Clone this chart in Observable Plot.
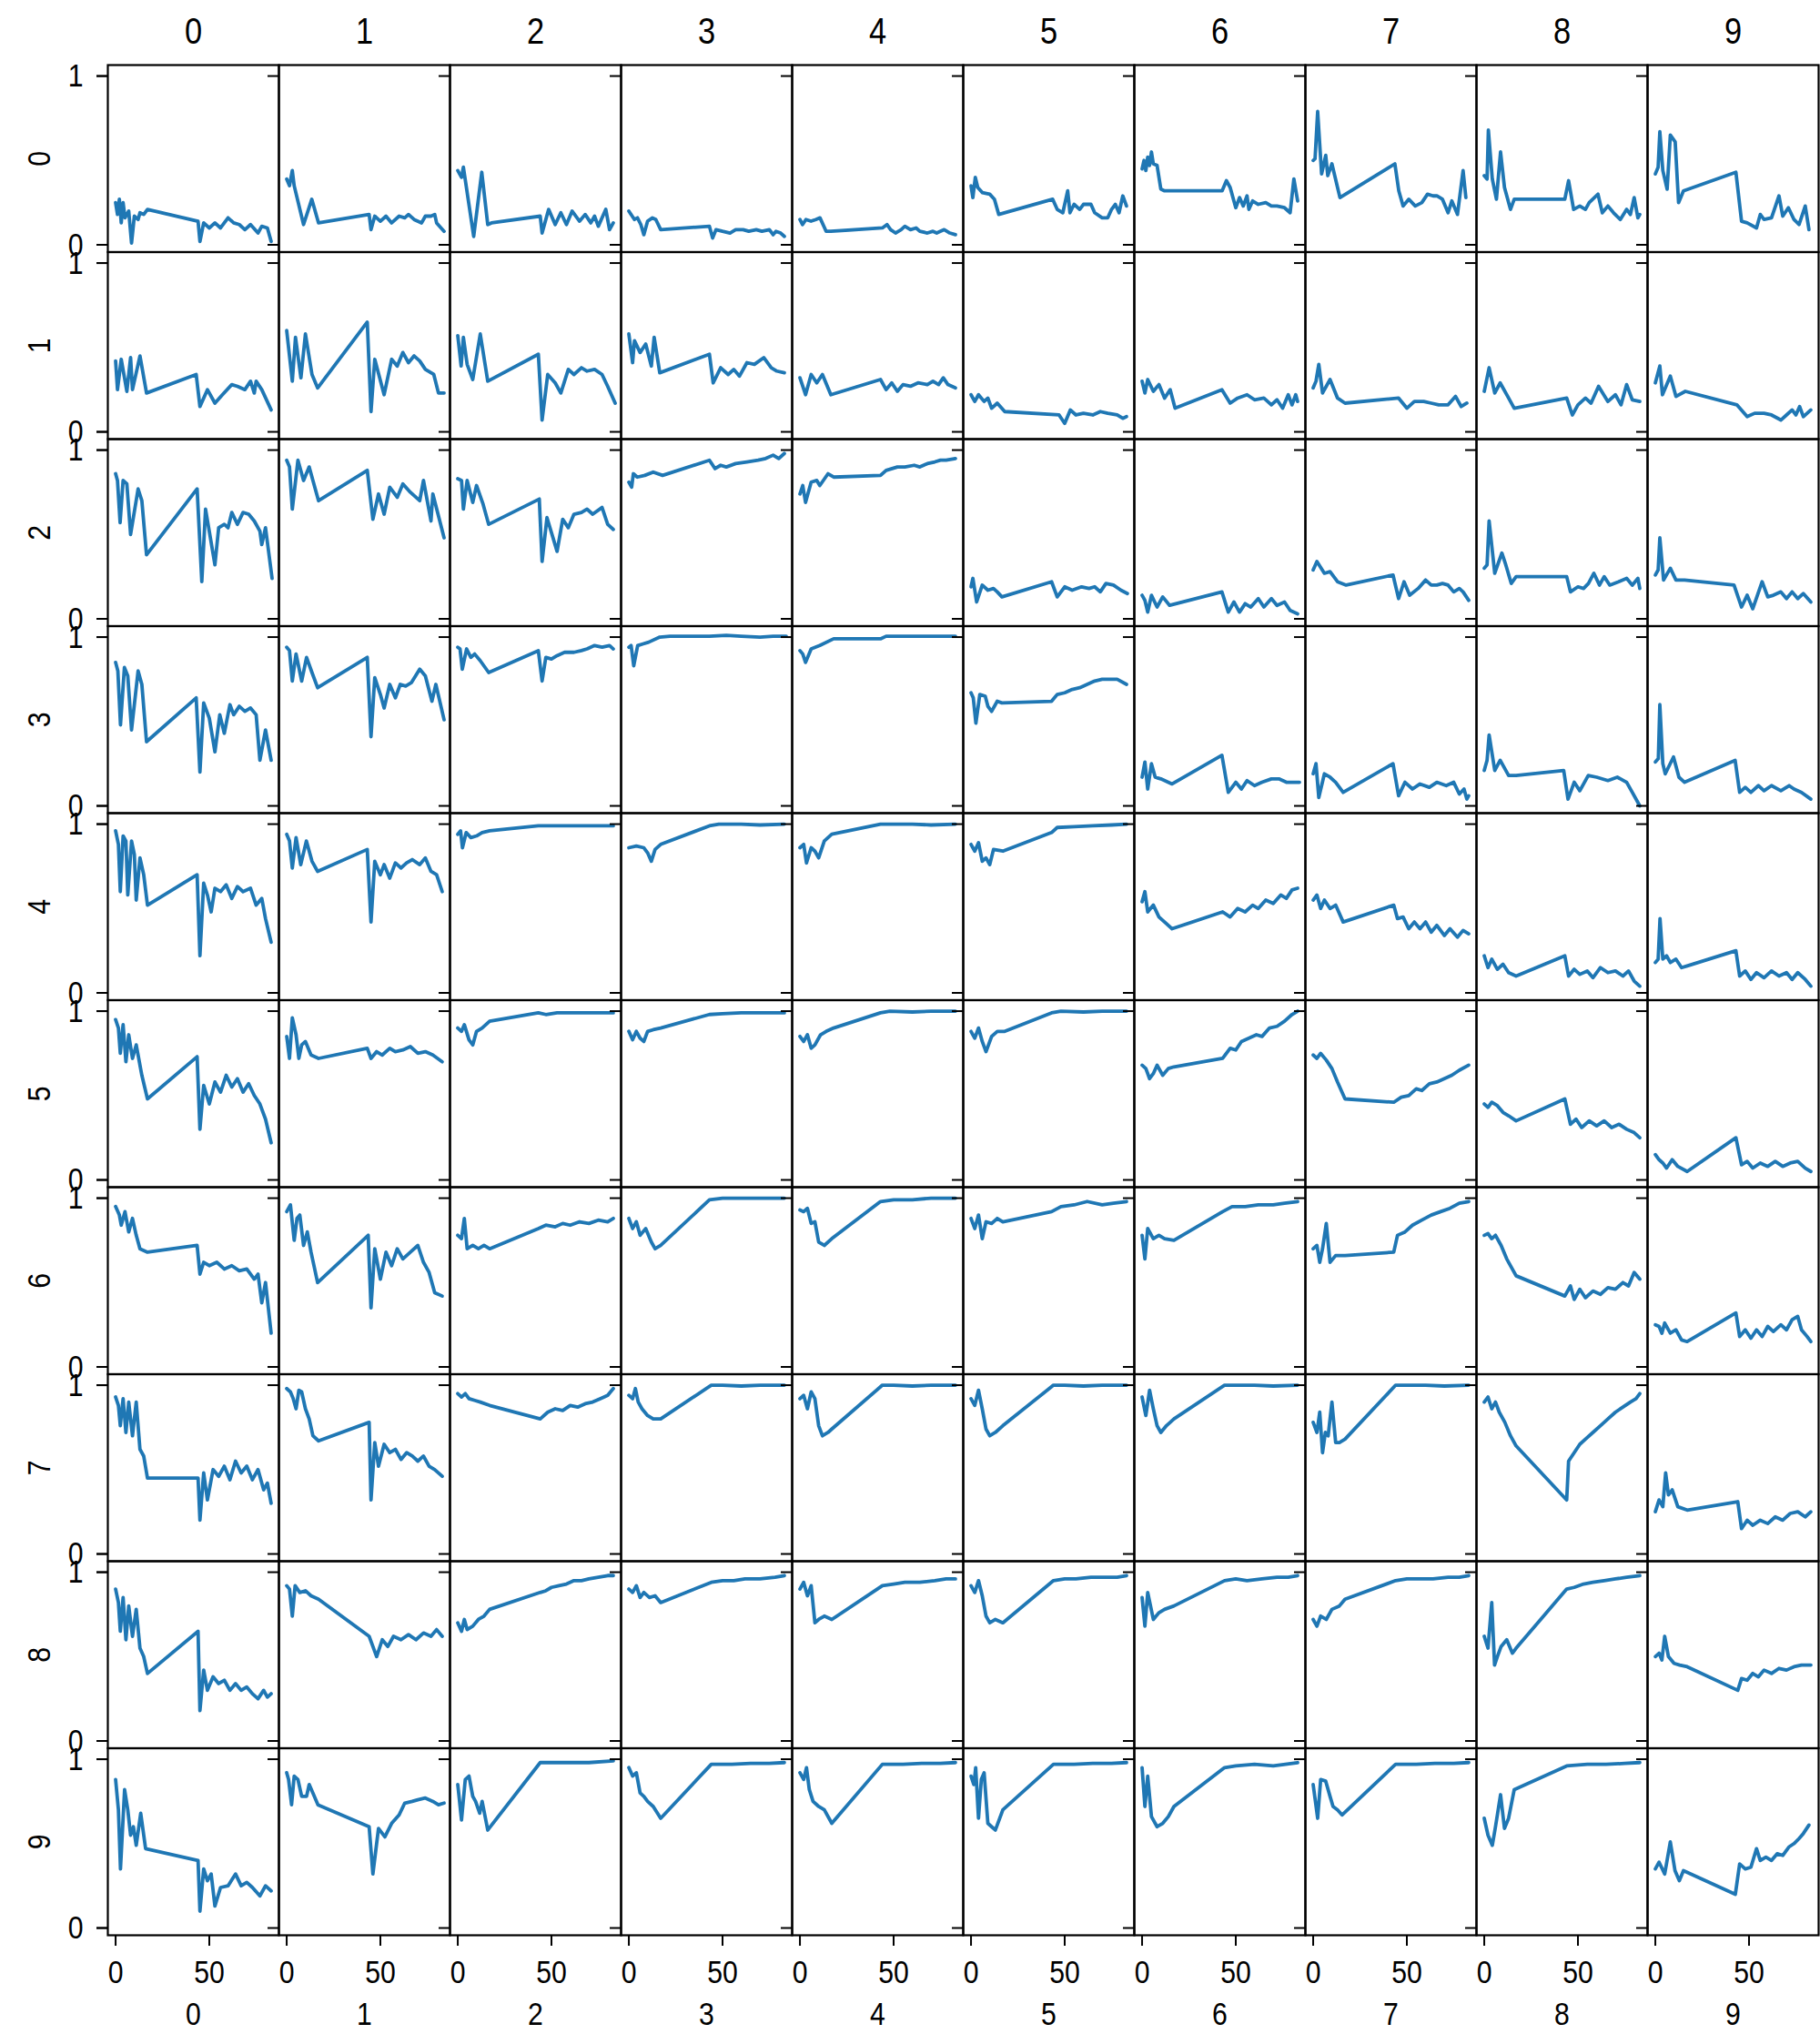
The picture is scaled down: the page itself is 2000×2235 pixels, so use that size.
<!DOCTYPE html>
<html>
<head>
<meta charset="utf-8">
<script src="https://cdn.jsdelivr.net/npm/d3@7"></script>
<script src="https://cdn.jsdelivr.net/npm/@observablehq/plot@0.6"></script>
<style>
  html, body { margin: 0; padding: 0; background: #fff; }
  #chart svg { display: block; }
</style>
</head>
<body>
<div id="chart"></div>
<script>
// Facet categories and tick values
const cols = [0, 1, 2, 3, 4, 5, 6, 7, 8, 9];
const rows = [0, 1, 2, 3, 4, 5, 6, 7, 8, 9];
const xTicks = [0, 50];
const yTicks = [0, 1];

// Series per row: one flat [x, y, x, y, ...] list per column
const row0 = [
  [0,.25, 1,.18, 2,.27, 3,.13, 4,.25, 5,.16, 7,.20, 8.5,.01, 10,.17, 12,.15, 13,.19, 15,.18, 17,.21, 44,.14, 45,.02, 47,.13, 50,.10, 53,.13, 56,.10, 60,.16, 63,.13, 66,.12, 69,.09, 72,.12, 76,.07, 78,.11, 81,.10, 83,.02],
  [0,.39, 1.5,.35, 3,.44, 4,.35, 9,.12, 13.4,.27, 17,.13, 44,.18, 45,.09, 47,.17, 50,.14, 53,.17, 56,.13, 60,.17, 63,.16, 65,.18, 68,.15, 72,.13, 74,.17, 77,.17, 79,.18, 80,.13, 84,.08],
  [0,.44, 2,.40, 3,.46, 8.5,.05, 12.8,.43, 16,.12, 18,.13, 44,.17, 45,.07, 48.5,.21, 52,.12, 55,.19, 58,.12, 61,.20, 65,.14, 68,.18, 71,.13, 73,.17, 75,.11, 79,.21, 81,.09, 83,.13],
  [0,.20, 3,.15, 4.6,.16, 6.4,.12, 8,.06, 10,.14, 12.6,.16, 14.4,.15, 17,.09, 43,.11, 44.7,.04, 46.5,.09, 50,.08, 54,.07, 57,.09, 61,.09, 64,.08, 68,.09, 71,.08, 75,.09, 77,.06, 78.5,.08, 81,.07, 83,.05],
  [0,.15, 1.4,.12, 3.2,.15, 5.9,.14, 8.5,.15, 10.7,.16, 14,.08, 16.5,.08, 44,.10, 46.5,.12, 48.4,.09, 51,.07, 54,.09, 56,.11, 59,.09, 62,.10, 64,.08, 68,.07, 71,.08, 73,.07, 77,.09, 80,.07, 83,.06],
  [0,.35, 1,.28, 2.3,.40, 3.6,.34, 6,.31, 10,.30, 12.5,.27, 14.8,.18, 43.6,.27, 46,.21, 49,.19, 51.6,.32, 52.8,.19, 55,.24, 58,.21, 60,.24, 64,.24, 66,.19, 70,.16, 73,.16, 75,.21, 77,.24, 79,.19, 81,.29, 83,.23],
  [0,.45, 1,.50, 2,.44, 3,.52, 4,.47, 5,.55, 6,.48, 8,.47, 10,.33, 12,.32, 42.7,.32, 45,.38, 47,.34, 50,.22, 52,.28, 54,.23, 56,.29, 57,.21, 59,.26, 62,.24, 66,.25, 69,.23, 72,.23, 76,.22, 79,.19, 81,.39, 83,.26],
  [0,.50, 1,.51, 2.4,.79, 4.5,.42, 6.7,.53, 7.8,.41, 10,.48, 14.3,.28, 43.6,.48, 45.7,.32, 48,.23, 51,.27, 54.5,.23, 58,.25, 61,.30, 64,.29, 66,.29, 69,.27, 72,.19, 74,.26, 77,.18, 80,.44, 81.5,.28],
  [0,.41, 1.5,.39, 2.2,.68, 4.3,.39, 6.5,.27, 8.7,.55, 10.8,.34, 14,.21, 16,.27, 43,.27, 45,.38, 47.7,.21, 51,.23, 54,.21, 56,.25, 60.7,.30, 63,.19, 66,.23, 69,.19, 72.6,.15, 76,.21, 78,.18, 80,.28, 82,.16, 83,.18],
  [0,.42, 1.5,.46, 2.4,.67, 4,.44, 6.3,.33, 8,.65, 10.6,.61, 12.4,.25, 15,.32, 43,.43, 46,.14, 49,.13, 54,.10, 56,.18, 58,.15, 62,.16, 66,.29, 68,.17, 71,.22, 74,.15, 76.7,.12, 80,.23, 82,.09]
];
const row1 = [
  [0,.42, 1,.25, 3,.43, 6,.24, 8,.44, 9,.25, 13,.45, 16.5,.23, 43,.34, 45,.15, 49,.25, 53,.17, 57,.22, 62,.28, 65,.27, 69,.25, 72,.30, 74,.23, 75,.30, 78,.25, 83,.13],
  [0,.60, 3,.30, 4.7,.56, 7.6,.32, 10,.58, 13.5,.34, 16.5,.26, 43,.65, 45,.12, 47,.43, 52,.22, 56,.43, 59,.39, 62,.47, 65,.41, 68,.45, 71,.42, 74,.37, 78.5,.34, 81,.23, 84,.23],
  [0,.57, 1.8,.39, 3,.56, 5,.40, 8,.31, 12,.58, 16,.30, 43,.46, 45,.07, 48,.34, 52,.29, 55,.23, 59,.37, 62,.34, 66,.38, 69,.36, 73,.37, 77,.34, 80,.27, 84,.17],
  [0,.58, 2,.41, 3,.54, 6,.47, 9,.52, 12,.39, 13.5,.56, 16.5,.35, 43,.46, 45,.29, 49,.38, 53,.34, 56,.37, 59,.33, 63,.41, 67,.40, 72,.44, 76,.38, 79,.36, 83,.35],
  [0,.32, 3,.22, 6,.34, 9,.29, 12,.34, 16.5,.22, 43,.31, 46,.25, 49,.29, 52,.24, 55,.28, 59,.27, 63,.29, 68,.28, 71,.30, 74,.28, 76.5,.32, 79,.28, 83,.26],
  [0,.22, 2,.18, 4,.22, 7,.18, 9,.20, 11,.14, 14,.17, 18,.12, 47,.10, 50,.05, 53,.13, 56,.10, 60,.11, 65,.10, 69,.12, 73,.11, 78,.10, 81,.08, 83,.09],
  [0,.30, 1.5,.23, 3,.31, 6,.24, 9,.28, 12,.20, 15,.25, 17.6,.14, 42.6,.25, 47,.17, 51,.20, 56,.22, 60,.19, 65,.20, 69,.16, 72,.19, 75,.14, 78,.22, 80,.16, 82,.22, 83,.18],
  [0,.26, 1.5,.30, 3,.40, 5,.23, 9,.31, 13,.20, 17,.17, 45.6,.20, 50,.14, 54,.18, 59,.18, 63,.17, 67,.16, 72,.16, 76,.21, 79,.15, 82,.17],
  [0,.24, 2.6,.38, 5.6,.23, 8.5,.29, 13,.20, 16,.14, 44,.20, 47,.10, 50,.16, 54,.20, 57,.17, 61,.27, 66,.18, 70,.22, 73,.16, 76,.28, 79,.19, 83,.18],
  [0,.29, 2.4,.39, 3.8,.22, 8,.33, 11,.21, 16,.24, 43.5,.16, 49,.09, 53,.11, 58,.11, 62,.10, 67,.07, 70,.10, 73,.13, 75,.10, 77,.15, 79,.09, 83,.13]
];
const row2 = [
  [0,.86, 1,.82, 2.4,.57, 4,.82, 6,.80, 8,.50, 12,.77, 14,.70, 16.5,.38, 43.5,.77, 46,.22, 48,.65, 53,.32, 55,.54, 58,.56, 60,.54, 62,.63, 65,.56, 68,.63, 71,.62, 74,.58, 77,.52, 78,.44, 80,.54, 83.5,.24],
  [0,.94, 1.5,.90, 3,.65, 6,.94, 9,.82, 12,.90, 14,.82, 17,.70, 43,.88, 46,.59, 49,.74, 52,.62, 55,.78, 59,.72, 62,.80, 66,.75, 71,.70, 73,.82, 77,.58, 78,.74, 84,.48],
  [0,.83, 2,.82, 3,.65, 5,.82, 8,.69, 10,.79, 13.5,.68, 16.5,.56, 43.5,.71, 45,.34, 47.6,.60, 53,.40, 56,.59, 59,.54, 62,.62, 66,.63, 69,.65, 72,.62, 77,.66, 80,.56, 83,.53],
  [0,.81, 1.5,.78, 2.4,.86, 4.5,.84, 8.5,.85, 13,.87, 18,.85, 43,.94, 46,.89, 49,.91, 52,.90, 57,.92, 63,.93, 69,.94, 73,.95, 77,.97, 80,.95, 83,.98],
  [0,.74, 1.5,.79, 3,.69, 6,.81, 9,.82, 10.6,.79, 15,.86, 18,.84, 43,.85, 46,.88, 52,.90, 56,.90, 61,.91, 64,.90, 68,.92, 72,.93, 75,.94, 78,.94, 83,.95],
  [0,.19, 1,.24, 3,.10, 6,.20, 9,.17, 12,.18, 14,.16, 16.5,.13, 43,.22, 46,.13, 50,.19, 54,.17, 59,.19, 63,.18, 66,.19, 69,.16, 72,.21, 76,.20, 80,.17, 83.5,.15],
  [0,.14, 1.5,.11, 3,.04, 5,.14, 8,.07, 11,.13, 14.7,.08, 42.6,.16, 46,.04, 49,.10, 52,.04, 55,.09, 58,.07, 62,.12, 65,.07, 69,.12, 72,.08, 76,.10, 79,.05, 83,.03],
  [0,.29, 2,.34, 6,.27, 9,.28, 13,.22, 17.6,.20, 42.6,.26, 45.6,.12, 48.5,.22, 51.5,.14, 56,.18, 60,.23, 63,.20, 66,.20, 69,.21, 72,.20, 75,.16, 78,.18, 80,.16, 83,.11],
  [0,.30, 1.5,.32, 2.6,.58, 5.6,.27, 9.4,.39, 11.5,.32, 14.4,.21, 17,.25, 44,.25, 46,.16, 50,.19, 53,.18, 55.6,.21, 58.5,.27, 61.5,.20, 64,.25, 67,.20, 71.7,.22, 76,.24, 79,.20, 82,.24, 83,.18],
  [0,.26, 1.5,.29, 2.4,.48, 4.4,.23, 8,.30, 11,.23, 15.6,.23, 42,.20, 46,.07, 49,.14, 52,.06, 57,.22, 60,.13, 63,.14, 67,.16, 70,.12, 73,.16, 76,.12, 79,.15, 83,.10]
];
const row3 = [
  [0,.85, 1.2,.80, 2.6,.48, 4.7,.82, 6.5,.77, 8.5,.45, 12,.80, 14,.72, 16.5,.38, 43,.64, 45,.20, 47,.61, 50,.52, 53,.32, 55.6,.54, 58,.43, 61,.60, 63,.54, 66,.59, 69,.56, 72,.58, 75,.54, 77,.27, 80,.45, 83,.27],
  [0,.94, 1.5,.92, 3,.74, 5,.90, 8,.74, 10.6,.88, 13.5,.79, 16.5,.70, 43,.88, 45,.41, 47,.76, 50,.66, 52,.58, 55,.72, 58,.64, 60.6,.72, 63.5,.71, 66.5,.73, 71,.81, 74,.77, 77.5,.62, 79.6,.72, 84,.51],
  [0,.94, 1.2,.93, 2.4,.81, 4.7,.93, 7,.88, 9,.90, 12,.86, 16.5,.79, 43,.92, 45,.74, 47,.88, 50,.87, 53,.89, 57,.91, 62,.91, 66,.92, 69,.93, 73,.95, 77,.94, 81,.95, 83,.93],
  [0,.94, 1.2,.95, 2.6,.83, 4.7,.95, 7.6,.96, 10.6,.97, 16.5,1.0, 22,1.005, 43,1.005, 52,1.01, 60,1.005, 70,1.0, 77,1.005, 84,1.005],
  [0,.92, 1.5,.90, 3,.85, 6,.93, 10.6,.95, 18,.99, 43,.99, 46,1.005, 60,1.005, 70,1.005, 83,1.005],
  [0,.67, 1.2,.64, 2.6,.49, 4.7,.66, 7.6,.65, 9,.59, 11,.56, 14,.62, 16.5,.61, 43,.62, 46,.66, 50,.67, 54,.69, 58,.70, 62,.72, 66,.74, 70,.75, 74,.75, 78,.75, 83,.72],
  [0,.17, 1.5,.26, 3,.10, 5,.25, 7,.17, 10,.16, 16,.13, 42.6,.30, 46,.08, 50,.14, 53,.10, 56,.15, 60,.12, 64,.14, 69,.16, 73,.16, 77,.14, 81,.14, 84,.14],
  [0,.19, 1.5,.25, 3,.05, 6,.19, 9,.17, 12,.14, 16,.08, 42.6,.25, 45.6,.06, 49,.14, 53,.10, 57,.13, 62,.11, 66,.14, 71,.12, 75,.14, 78,.07, 80.5,.10, 82,.04, 83,.06],
  [0,.21, 1.5,.27, 2.6,.42, 5.6,.21, 8.5,.27, 13,.18, 17,.18, 42.4,.21, 44.7,.04, 48,.14, 51,.09, 55.5,.18, 60,.17, 66,.15, 71,.17, 76,.14, 79,.08, 83,.00],
  [0,.26, 1.6,.28, 2.4,.60, 4,.25, 5.3,.19, 9.7,.29, 12.6,.17, 15.6,.14, 42.6,.27, 45,.08, 48,.11, 51,.08, 55,.12, 58,.09, 62,.12, 67,.09, 71.4,.12, 74,.10, 78,.08, 83,.04]
];
const row4 = [
  [0,.96, 1.5,.88, 2.5,.60, 4,.93, 5.5,.90, 6.5,.58, 8.5,.90, 10,.82, 11,.55, 13,.80, 15,.70, 17,.52, 43.5,.70, 45,.22, 47,.65, 49,.58, 51,.48, 53,.62, 56,.60, 59,.64, 62,.56, 65,.63, 68,.60, 72,.62, 75,.52, 78,.56, 80,.44, 83,.30],
  [0,.94, 1.5,.90, 3,.74, 5,.92, 7.5,.76, 10.5,.90, 13.5,.78, 16.5,.72, 43,.85, 45,.42, 47,.78, 50,.70, 52,.76, 55,.68, 58,.77, 61,.74, 64,.77, 67,.79, 71,.76, 74,.80, 77,.72, 80,.70, 83,.60],
  [0,.94, 1.5,.96, 2.5,.86, 4.5,.95, 7,.92, 10,.93, 13,.95, 17,.96, 43,.99, 50,.99, 60,.99, 70,.99, 83,.99],
  [0,.86, 4,.87, 8,.86, 10,.83, 12,.78, 14,.85, 17,.88, 43,.99, 48,1.0, 60,1.0, 70,.995, 83,1.0],
  [0,.86, 2,.88, 3.5,.77, 6,.86, 8,.84, 10,.80, 13,.90, 17,.94, 43,1.0, 60,1.0, 70,.995, 83,1.0],
  [0,.88, 2,.84, 4,.89, 6,.78, 8,.80, 10,.76, 12,.85, 17,.84, 43,.95, 46,.98, 55,.985, 65,.99, 75,.995, 83,1.0],
  [0,.54, 1.5,.60, 3,.48, 6,.52, 9,.45, 12,.42, 16,.38, 43,.48, 47,.45, 51,.50, 55,.48, 59,.52, 62,.50, 66,.55, 70,.53, 74,.58, 77,.56, 80,.61, 83,.62],
  [0,.55, 2,.58, 4,.50, 6,.55, 9,.50, 12,.52, 16,.42, 43,.52, 45,.44, 48,.45, 51,.38, 54,.42, 57,.38, 60,.42, 63,.36, 66,.40, 70,.34, 73,.38, 77,.33, 80,.37, 83,.35],
  [0,.22, 2,.15, 4,.20, 7,.14, 10,.17, 13,.12, 17,.10, 43,.22, 45,.10, 48,.14, 51,.11, 55,.13, 58,.09, 62,.15, 66,.12, 70,.13, 74,.10, 77,.13, 80,.07, 83,.04],
  [0,.18, 1.5,.20, 2.5,.44, 4,.20, 6,.22, 8,.18, 11,.20, 14,.15, 17,.16, 43,.25, 45,.10, 48,.13, 51,.08, 54,.12, 58,.09, 62,.13, 66,.10, 70,.12, 73,.08, 76,.12, 80,.08, 83,.04]
];
const row5 = [
  [0,.95, 1.5,.90, 2.5,.75, 4,.92, 5.5,.70, 7,.86, 9,.72, 11,.80, 14,.62, 17,.48, 43.5,.73, 45,.30, 47,.56, 50,.45, 53,.58, 56,.52, 59,.62, 62,.55, 65,.60, 68,.52, 71,.57, 74,.50, 77,.45, 80,.36, 83,.22],
  [0,.85, 1.5,.72, 3,.96, 5,.86, 6.5,.72, 8,.80, 10,.82, 13,.74, 17,.72, 43,.78, 45,.72, 48,.76, 51,.74, 55,.78, 58,.76, 62,.77, 66,.79, 70,.75, 74,.76, 78,.74, 83,.70],
  [0,.90, 2,.88, 3.5,.92, 6,.83, 8,.80, 10,.88, 13,.90, 17,.94, 43,.99, 47,.98, 53,.99, 60,.99, 70,.99, 83,.99],
  [0,.88, 2,.83, 4,.88, 6,.84, 8,.82, 10,.88, 13,.89, 17,.90, 43,.98, 50,.985, 60,.99, 70,.99, 83,.99],
  [0,.85, 2,.82, 4,.86, 6,.78, 8,.80, 11,.86, 14,.88, 18,.90, 43,.99, 48,1.0, 60,.995, 70,1.0, 83,1.0],
  [0,.88, 2,.84, 4,.90, 6,.82, 8,.76, 11,.85, 14,.88, 18,.88, 43,.99, 48,1.0, 60,.995, 70,1.0, 83,1.0],
  [0,.68, 2,.66, 4,.60, 6,.63, 8,.68, 11,.62, 14,.66, 17,.67, 43,.72, 47,.78, 50,.77, 53,.82, 57,.84, 61,.86, 64,.85, 68,.90, 72,.91, 76,.94, 80,.98, 83,1.0],
  [0,.74, 2,.72, 4,.75, 7,.71, 10,.66, 13,.58, 17,.48, 43,.46, 47,.49, 51,.50, 55,.54, 58,.53, 62,.57, 66,.58, 70,.60, 74,.62, 78,.65, 83,.68],
  [0,.45, 2,.43, 4,.46, 7,.44, 10,.40, 13,.38, 17,.35, 43,.48, 46,.33, 49,.36, 52,.31, 56,.35, 60,.32, 64,.35, 68,.31, 72,.33, 76,.30, 80,.28, 83,.25],
  [0,.15, 2,.12, 4,.10, 6,.07, 9,.12, 12,.08, 17,.05, 43,.25, 46,.09, 49,.11, 52,.07, 56,.10, 60,.08, 64,.11, 68,.08, 72,.10, 76,.11, 80,.07, 83,.05]
];
const row6 = [
  [0,.95, 2,.90, 3,.84, 5,.92, 7,.80, 9,.88, 11,.78, 13,.70, 17,.68, 43.5,.72, 45,.55, 47,.62, 50,.60, 54,.62, 58,.58, 62,.60, 66,.57, 70,.58, 74,.52, 76,.55, 78,.38, 80,.50, 83,.20],
  [0,.92, 2,.96, 4,.75, 5.5,.88, 7,.90, 9,.72, 11,.80, 13,.68, 16.5,.50, 43.5,.78, 45,.35, 47,.70, 50,.52, 53,.68, 56,.60, 59,.70, 62,.64, 66,.68, 70,.72, 73,.62, 76,.56, 79,.44, 83,.42],
  [0,.78, 2,.76, 3.5,.88, 5,.70, 8,.72, 11,.70, 14,.72, 17,.70, 43,.82, 47,.84, 52,.83, 56,.85, 60,.84, 65,.86, 70,.85, 75,.87, 80,.86, 83,.88],
  [0,.88, 2,.82, 4,.86, 6,.78, 9,.82, 12,.74, 14,.70, 17,.72, 43,.99, 50,1.0, 60,1.0, 70,1.0, 83,1.0],
  [0,.93, 2,.92, 4,.94, 6,.85, 8,.86, 10,.74, 13,.72, 17,.76, 43,.98, 50,.99, 60,.99, 70,1.0, 83,1.0],
  [0,.88, 2,.82, 4,.90, 6,.76, 8,.86, 11,.85, 14,.88, 17,.86, 43,.92, 48,.95, 55,.96, 62,.98, 70,.96, 76,.97, 83,.98],
  [0,.78, 1.5,.64, 3,.82, 6,.76, 9,.78, 12,.76, 17,.75, 43,.92, 48,.95, 55,.95, 62,.96, 70,.96, 76,.97, 83,.98],
  [0,.70, 2,.72, 3.5,.62, 5,.70, 7,.85, 9,.62, 12,.66, 17,.66, 43,.68, 45,.78, 49,.80, 53,.84, 58,.87, 63,.90, 68,.92, 73,.94, 78,.97, 83,.98],
  [0,.78, 2,.79, 4,.76, 6,.78, 9,.72, 12,.64, 17,.54, 43,.42, 46,.48, 48,.40, 51,.46, 54,.41, 58,.45, 62,.43, 66,.47, 70,.46, 74,.50, 77,.48, 80,.56, 83,.52],
  [0,.25, 2,.24, 3.5,.20, 5,.26, 8,.20, 11,.22, 14,.16, 17,.15, 43,.32, 45,.18, 48,.22, 51,.17, 54,.22, 57,.18, 60,.24, 63,.21, 67,.25, 70,.22, 73,.28, 76,.30, 78,.22, 81,.18, 83,.15]
];
const row7 = [
  [0,.93, 1.5,.88, 2.5,.76, 4,.92, 5.5,.72, 7,.90, 9,.70, 11,.90, 13,.62, 15,.58, 17,.45, 44,.45, 45,.20, 47,.48, 49,.32, 52,.50, 55,.46, 58,.52, 61,.44, 64,.55, 67,.48, 70,.52, 73,.44, 76,.50, 79,.38, 81,.42, 83,.30],
  [0,.98, 2,.96, 3.5,.92, 5,.86, 6.5,.97, 8,.96, 10,.86, 12,.80, 14,.70, 17,.67, 44,.78, 45,.32, 47,.66, 49,.52, 52,.65, 55,.60, 58,.62, 61,.56, 64,.60, 67,.58, 70,.55, 73,.58, 76,.52, 79,.50, 83,.46],
  [0,.95, 2,.93, 4,.95, 6,.92, 9,.91, 12,.90, 17,.88, 44,.80, 48,.84, 52,.86, 56,.85, 60,.88, 64,.87, 68,.89, 72,.90, 76,.92, 80,.94, 83,.98],
  [0,.94, 2,.92, 3.5,.98, 5,.90, 7,.86, 10,.82, 13,.80, 17,.80, 44,1.0, 50,1.0, 60,.995, 70,1.0, 83,1.0],
  [0,.92, 2,.94, 4,.86, 6,.96, 8,.92, 10,.76, 12,.70, 15,.72, 17,.74, 44,1.0, 50,1.0, 60,.995, 70,1.0, 83,1.0],
  [0,.92, 2,.88, 4,.97, 6,.86, 8,.74, 10,.70, 13,.72, 17,.76, 44,1.0, 50,1.0, 60,.995, 70,1.0, 83,1.0],
  [0,.93, 2,.82, 4,.97, 6,.86, 8,.76, 10,.72, 13,.76, 17,.80, 44,1.0, 50,1.0, 60,1.0, 70,.995, 83,1.0],
  [0,.78, 2,.72, 3.5,.84, 5,.60, 6.5,.72, 8,.70, 10,.90, 12,.66, 14,.66, 17,.68, 44,1.0, 50,1.0, 60,1.0, 70,.995, 83,1.0],
  [0,.90, 2,.93, 4,.86, 6,.90, 8,.84, 11,.78, 14,.70, 17,.64, 44,.32, 45,.55, 48,.60, 51,.65, 54,.68, 58,.72, 62,.76, 66,.80, 70,.84, 74,.87, 78,.90, 81,.92, 83,.95],
  [0,.25, 2,.32, 4,.28, 5.5,.48, 7,.35, 9,.38, 12,.28, 17,.26, 44,.31, 46,.15, 49,.20, 52,.17, 56,.20, 60,.18, 64,.22, 68,.20, 72,.24, 76,.25, 80,.22, 83,.25]
];
const row8 = [
  [0,.90, 1.5,.82, 2.5,.65, 4,.85, 5.5,.60, 7,.80, 9,.62, 11,.78, 13,.55, 15,.50, 17,.40, 44,.65, 45,.18, 47,.42, 49,.30, 52,.38, 55,.34, 58,.36, 61,.30, 64,.34, 67,.30, 70,.32, 73,.28, 76,.25, 79,.30, 81,.26, 83,.28],
  [0,.92, 1.5,.90, 3,.74, 4.5,.92, 7,.88, 10,.89, 13,.86, 17,.84, 44,.62, 46,.56, 48,.50, 51,.60, 54,.56, 57,.62, 61,.60, 65,.63, 69,.60, 73,.64, 77,.62, 80,.66, 83,.62],
  [0,.70, 2,.65, 3.5,.72, 5,.66, 8,.68, 11,.72, 14,.74, 17,.78, 44,.88, 47,.89, 50,.91, 54,.92, 58,.93, 62,.95, 66,.95, 70,.96, 75,.97, 80,.98, 83,.98],
  [0,.90, 2,.88, 4,.92, 6,.85, 8,.88, 11,.85, 14,.86, 17,.82, 44,.94, 50,.95, 56,.95, 62,.96, 70,.96, 78,.97, 83,.98],
  [0,.90, 2,.94, 4,.86, 6,.92, 8,.70, 10,.72, 13,.74, 17,.72, 44,.92, 50,.93, 56,.94, 64,.94, 72,.95, 78,.96, 83,.96],
  [0,.92, 2,.88, 4,.95, 6,.86, 8,.74, 10,.70, 13,.72, 17,.70, 44,.95, 50,.96, 56,.96, 64,.97, 72,.97, 78,.97, 83,.98],
  [0,.85, 1.5,.68, 3,.88, 6,.72, 9,.76, 12,.78, 17,.80, 44,.95, 50,.96, 56,.95, 64,.96, 72,.97, 78,.97, 83,.98],
  [0,.72, 2,.68, 4,.74, 7,.72, 10,.78, 14,.80, 17,.84, 44,.95, 50,.96, 56,.96, 64,.96, 72,.97, 78,.97, 83,.98],
  [0,.62, 2,.55, 4,.82, 5.5,.45, 7,.50, 9,.56, 12,.60, 15,.52, 17,.55, 44,.90, 48,.91, 53,.93, 58,.94, 64,.95, 70,.96, 76,.97, 83,.98],
  [0,.50, 2,.52, 3.5,.48, 5,.62, 7,.50, 10,.46, 13,.45, 17,.44, 44,.30, 46,.37, 49,.36, 52,.40, 55,.38, 58,.42, 62,.40, 66,.43, 70,.42, 74,.44, 78,.45, 83,.45]
];
const row9 = [
  [0,.88, 1.5,.70, 2.6,.35, 4.8,.82, 6.5,.70, 8,.55, 9.5,.60, 11,.49, 13.4,.68, 16,.47, 44,.40, 45,.10, 47,.35, 49,.28, 51,.32, 53,.13, 56,.24, 60,.25, 64,.32, 67,.25, 70,.27, 73,.24, 77,.19, 80,.25, 83,.22],
  [0,.92, 1,.88, 2.6,.73, 4,.90, 6,.88, 8,.78, 10.6,.78, 12,.85, 14,.80, 16.7,.73, 44,.60, 46,.32, 49,.59, 52.4,.54, 56,.62, 60,.67, 63,.74, 67,.75, 70,.76, 74,.77, 78,.75, 81,.73, 84,.74],
  [0,.85, 2,.64, 4,.88, 6,.90, 8,.78, 9.5,.75, 11.7,.68, 13,.75, 16,.58, 44,.98, 50,.98, 60,.98, 70,.98, 83,.99],
  [0,.95, 2,.90, 4,.92, 6,.80, 8,.78, 10,.75, 13,.72, 17,.65, 44,.97, 55,.97, 65,.975, 75,.975, 83,.98],
  [0,.92, 2,.88, 3.5,.95, 5,.82, 7,.75, 10,.72, 13,.70, 17,.62, 44,.97, 55,.97, 65,.975, 75,.975, 83,.98],
  [0,.90, 1.5,.85, 2.5,.95, 4,.65, 5.5,.88, 7,.92, 9,.62, 11,.60, 13,.58, 17,.70, 44,.97, 55,.97, 65,.975, 75,.975, 83,.98],
  [0,.95, 1.5,.72, 3,.90, 5,.66, 8,.60, 11,.62, 14,.66, 17,.72, 44,.95, 50,.96, 60,.97, 70,.96, 83,.98],
  [0,.85, 2.4,.65, 4,.88, 6.7,.87, 9,.78, 10.6,.72, 13,.70, 15.4,.67, 44,.97, 55,.97, 65,.975, 75,.975, 83,.98],
  [0,.65, 2,.55, 4.3,.49, 6,.60, 8.7,.79, 10.8,.59, 13,.65, 16,.82, 44,.96, 55,.97, 65,.97, 75,.975, 83,.98],
  [0,.35, 2,.39, 5,.32, 8,.51, 10.5,.34, 12.8,.28, 15,.34, 42.7,.20, 45,.38, 48,.35, 51,.36, 54,.47, 56,.40, 59,.42, 62,.40, 65,.44, 68,.43, 71.3,.48, 74,.50, 76.7,.53, 79,.56, 82,.61]
];

const seriesRows = [row0, row1, row2, row3, row4, row5, row6, row7, row8, row9];

// Flatten into a tidy table for Plot
const data = [];
seriesRows.forEach((rowSeries, r) => {
  rowSeries.forEach((flat, c) => {
    for (let i = 0; i + 1 < flat.length; i += 2) {
      data.push({row: rows[r], col: cols[c], x: flat[i], y: flat[i + 1]});
    }
  });
});

const FONT = '"Liberation Sans Narrow", "Arial Narrow", "Liberation Sans", Arial, sans-serif';

const chart = Plot.plot({
  width: 2000,
  height: 2235,
  marginTop: 71,
  marginBottom: 109,
  marginLeft: 118,
  marginRight: 2,
  style: {fontFamily: FONT, fontSize: "35px", color: "black", background: "white"},
  x: {domain: [-4.15, 87.15], label: null},
  y: {domain: [-0.043, 1.065], label: null},
  fx: {domain: cols, paddingInner: 0, paddingOuter: 0, round: false, label: null},
  fy: {domain: rows, paddingInner: 0, paddingOuter: 0, round: false, label: null},
  marks: [
    Plot.line(data, {x: "x", y: "y", fx: "col", fy: "row", stroke: "#1f77b4", strokeWidth: 3.8, strokeLinejoin: "round", strokeLinecap: "round"}),
    Plot.frame({stroke: "black", strokeWidth: 2.2}),
    // unlabeled y ticks on every facet
    Plot.axisY({ticks: yTicks, tickSize: 12, strokeWidth: 2, text: null, facetAnchor: null, label: null}),
    // labeled y ticks on the first column
    Plot.axisY({ticks: yTicks, tickSize: 12, tickPadding: 15, strokeWidth: 2, tickFormat: d => String(d), fontSize: 36, label: null}),
    // x ticks on the bottom row
    Plot.axisX({ticks: xTicks, tickSize: 12, tickPadding: 15, strokeWidth: 2, tickFormat: d => String(d), fontSize: 36, label: null}),
    // column labels, top and bottom
    Plot.axisFx({anchor: "top", tickSize: 0, tickPadding: 24, fontSize: 41, label: null}),
    Plot.axisFx({anchor: "bottom", tickSize: 0, tickPadding: 73, fontSize: 36, label: null}),
    // row labels, rotated
    Plot.axisFy({anchor: "left", tickSize: 0, tickRotate: -90, tickPadding: 64, fontSize: 36, label: null})
  ]
});

// Narrow the glyphs horizontally (the reference uses a condensed face), keeping each anchor.
// Only a numeric x attribute is folded into the transform; y / dy (often in em) stay as they are.
chart.querySelectorAll("text").forEach(t => {
  let tr = t.getAttribute("transform") || "";
  const x = t.getAttribute("x");
  if (x != null && x !== "" && !isNaN(+x)) {
    tr += ` translate(${+x},0)`;
    t.removeAttribute("x");
  }
  t.setAttribute("transform", `${tr} scale(0.84,1)`);
});

document.getElementById("chart").appendChild(chart);
</script>
</body>
</html>
